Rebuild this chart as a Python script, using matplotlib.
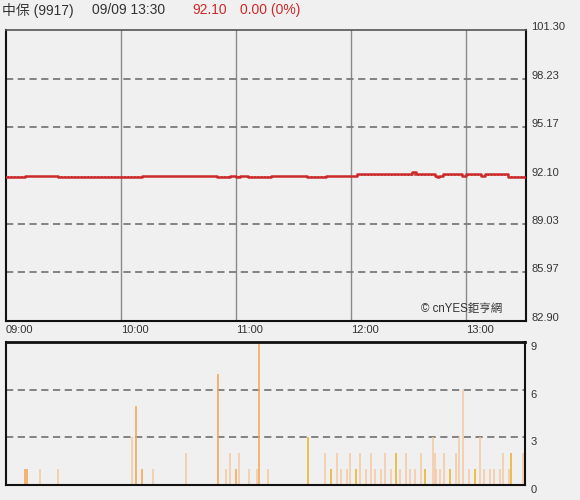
import numpy as np
import matplotlib
matplotlib.use('Agg')
import matplotlib.pyplot as plt

plt.rcParams['font.family'] = ['Liberation Sans', 'Noto Sans CJK TC', 'DejaVu Sans']
plt.rcParams['hatch.linewidth'] = 1.0

# 價格（分鐘自 09:00 起算, 成交價）
price_min = [0, 10, 27, 71, 110, 117, 120, 122, 126, 138, 157, 167, 183, 212, 214,
             224, 225, 226, 228, 238, 240, 248, 250, 262, 271]
price_val = [92.0, 92.1, 92.0, 92.1, 92.0, 92.1, 92.0, 92.1, 92.0, 92.1, 92.0, 92.1,
             92.2, 92.3, 92.2, 92.1, 92.0, 92.1, 92.2, 92.1, 92.2, 92.1, 92.2, 92.0, 92.0]
ref_price = 92.10

# 成交量
vol_min = [0, 10, 11, 18, 27, 66, 68, 71, 77, 94, 111, 115, 117, 120, 122, 127, 131, 132, 137,
           158, 167, 170, 173, 175, 178, 180, 183, 185, 188, 191, 193, 196, 198, 201, 204, 206,
           209, 211, 214, 217, 219, 223, 224, 225, 227, 229, 232, 235, 237, 239, 242, 245, 248,
           250, 253, 255, 258, 260, 263, 264, 270]
vol_val = [1, 1, 1, 1, 1, 3, 5, 1, 1, 2, 7, 1, 2, 1, 2, 1, 1, 9, 1,
           3, 2, 1, 2, 1, 1, 2, 1, 2, 1, 2, 1, 1, 2, 1, 2, 1,
           2, 1, 1, 2, 1, 3, 2, 1, 1, 2, 1, 2, 3, 6, 1, 1, 3,
           1, 1, 1, 1, 2, 1, 2, 2]
# 內外盤 (b=外盤, s=內盤, n=平盤)
vol_side = ['b', 'b', 'b', 's', 's', 's', 'b', 'b', 's', 's', 'b', 's', 's', 'b', 's', 's', 's', 'b', 's',
            'n', 's', 'n', 's', 's', 's', 's', 'n', 's', 's', 's', 's', 's', 's', 's', 'n', 's',
            's', 's', 's', 's', 'n', 's', 's', 's', 's', 's', 'n', 's', 's', 's', 's', 'n', 's',
            's', 's', 's', 's', 's', 's', 'n', 's']

price_ticks = [82.90, 85.97, 89.03, 92.10, 95.17, 98.23, 101.30]
time_ticks = [0, 60, 120, 180, 240]
time_labels = ['09:00', '10:00', '11:00', '12:00', '13:00']
vol_ticks = [0, 3, 6, 9]

bg = '#f0f0f0'
fig = plt.figure(figsize=(5.8, 5.0), dpi=100, facecolor=bg)
ax1 = fig.add_axes([6/580, 179/500, 520/580, 291/500], facecolor=bg)
ax2 = fig.add_axes([6/580, 15/500, 519/580, 143/500], facecolor=bg)
xmax = 271.3

# 上圖
for t in time_ticks[1:]:
    ax1.axvline(t, color='#8a8a8a', lw=1.0, zorder=1)
for p in [85.97, 89.03, 95.17, 98.23]:
    ax1.axhline(p, color='#7a7a7a', lw=1.3, ls=(0, (4, 2.5)), zorder=1)
ax1.fill_between(price_min, price_val, ref_price, step='post', facecolor='none',
                 edgecolor='#c43030', hatch='|||||', lw=0, zorder=2)
ax1.plot(price_min, price_val, drawstyle='steps-post', color='#cc2a2a', lw=1.8, zorder=3)
ax1.set_xlim(0, xmax)
ax1.set_ylim(82.90, 101.30)
ax1.set_yticks(price_ticks)
ax1.set_yticklabels(['%.2f' % p for p in price_ticks])
ax1.yaxis.tick_right()
for lbl in ax1.get_yticklabels():
    lbl.set_va('baseline')
ax1.set_xticks(time_ticks)
ax1.set_xticklabels(time_labels, ha='left')
ax1.tick_params(axis='both', length=0, labelsize=8, colors='#333333')
ax1.tick_params(axis='x', pad=3)
ax1.tick_params(axis='y', pad=4)
for s in ['left', 'bottom', 'right']:
    ax1.spines[s].set_color('#111111')
    ax1.spines[s].set_linewidth(1.5)
ax1.spines['top'].set_color('#555555')
ax1.spines['top'].set_linewidth(1.2)
ax1.text((502 - 6) / 520 * xmax, 83.25, '© cnYES鉅亨網', ha='right', va='bottom',
         fontsize=8.3, color='#333333', zorder=4)

# 下圖
for v in [3, 6]:
    ax2.axhline(v, color='#7a7a7a', lw=1.3, ls=(0, (4, 2.5)), zorder=1)
side_color = {'b': '#f2a54e', 's': '#f7c8a2', 'n': '#e9b020'}
ax2.vlines(vol_min, 0, vol_val, colors=[side_color[c] for c in vol_side], lw=1.1, zorder=2)
ax2.set_xlim(0, xmax)
ax2.set_ylim(0, 9)
ax2.set_xticks([])
ax2.set_yticks(vol_ticks)
ax2.yaxis.tick_right()
ax2.tick_params(axis='y', length=0, labelsize=8, colors='#333333', pad=4)
for lbl in ax2.get_yticklabels():
    lbl.set_va('top')
for s in ['left', 'bottom', 'right']:
    ax2.spines[s].set_color('#111111')
    ax2.spines[s].set_linewidth(1.5)
ax2.spines['top'].set_color('#111111')
ax2.spines['top'].set_linewidth(2.0)

# 標題列
fig.text(2/580, 1 - 10/500, '中保 (9917)', fontsize=10, color='#333333', va='center')
fig.text(92/580, 1 - 10/500, '09/09 13:30', fontsize=10, color='#333333', va='center')
fig.text(192/580, 1 - 10/500, '92.10', fontsize=10, color='#cc2a2a', va='center')
fig.text(240/580, 1 - 10/500, '0.00 (0%)', fontsize=10, color='#cc2a2a', va='center')

fig.savefig('out.png', dpi=100, facecolor=bg)
